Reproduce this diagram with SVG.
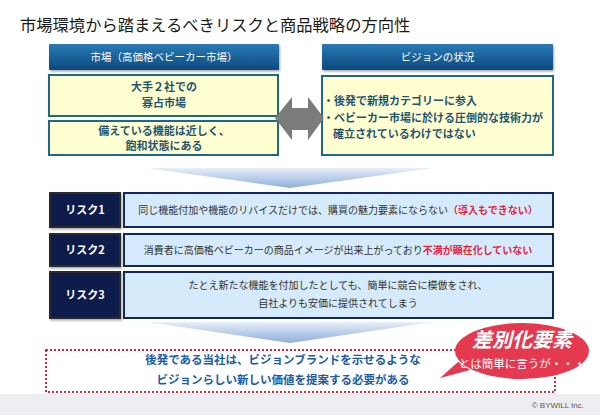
<svg xmlns="http://www.w3.org/2000/svg" width="600" height="415" viewBox="0 0 600 415">
<defs>
<linearGradient id="hdr" x1="0" y1="0" x2="0" y2="1">
<stop offset="0" stop-color="#2b7ab5"/>
<stop offset="1" stop-color="#0b4a80"/>
</linearGradient>
<linearGradient id="chev" x1="0" y1="0" x2="0" y2="1">
<stop offset="0" stop-color="#e8eff8"/>
<stop offset="1" stop-color="#8eaedb"/>
</linearGradient>
<filter id="sh" x="-5%" y="-5%" width="110%" height="120%">
<feDropShadow dx="1" dy="1.5" stdDeviation="1" flood-color="#000" flood-opacity="0.35"/>
</filter>
</defs>
<style>
text{font-family:"Noto Sans CJK JP","Noto Sans",sans-serif}
.hdr{fill:url(#hdr);filter:url(#sh)}
.ht{fill:#fff;font-size:10.5px;text-anchor:middle}
.yb{fill:#ffffd2;stroke:#1b6a86;stroke-width:2}
.yt{fill:#1f5570;font-size:11px;font-weight:bold}
.rl{fill:#0d1e4c;stroke:#2a2a2a;stroke-width:2;filter:url(#sh)}
.rlt{fill:#fff;font-size:11px;font-weight:bold;text-anchor:middle}
.rc{fill:#d5ebfb;stroke:#13285c;stroke-width:2}
.rt{fill:#333;font-size:10px;text-anchor:middle}
.red{fill:#ea2039;font-weight:bold}
.bt{fill:#1a5ca8;font-size:11.5px;font-weight:bold;text-anchor:middle}
</style>
<rect x="0" y="0" width="600" height="415" fill="#fff"/>
<rect x="0" y="394" width="600" height="21" fill="#eceef1"/>
<text x="20" y="31" font-size="16.3" fill="#1a1a1a">市場環境から踏まえるべきリスクと商品戦略の方向性</text>

<g id="market-header">
<rect class="hdr" x="49" y="44" width="230" height="26" rx="1"/>
<text class="ht" x="164" y="61">市場（高価格ベビーカー市場）</text>
</g>
<g id="market-oligopoly">
<rect class="yb" x="49" y="75" width="229" height="41"/>
<text class="yt" x="164" y="91" text-anchor="middle">大手２社での</text>
<text class="yt" x="164" y="107" text-anchor="middle">寡占市場</text>
</g>
<g id="market-saturated">
<rect class="yb" x="49" y="121" width="229" height="34"/>
<text class="yt" x="164" y="135" text-anchor="middle">備えている機能は近しく、</text>
<text class="yt" x="164" y="150" text-anchor="middle">飽和状態にある</text>
</g>
<g id="vision-header">
<rect class="hdr" x="322" y="44" width="231" height="26" rx="1"/>
<text class="ht" x="437.5" y="61">ビジョンの状況</text>
</g>
<g id="vision-status">
<rect class="yb" x="322" y="76" width="231" height="79"/>
<text class="yt" x="323" y="105">・後発で新規カテゴリーに参入</text>
<text class="yt" x="323" y="122">・ベビーカー市場に於ける圧倒的な技術力が</text>
<text class="yt" x="333" y="138">確立されているわけではない</text>
</g>

<g id="connectors">
<polygon points="275,118 292,97 292,108 308,108 308,97 324,118 308,140 308,130 292,130 292,140" fill="#7b7b7b"/>
<polygon points="147,168 433,168 290,188" fill="url(#chev)"/>
<polygon points="147,322 433,322 290,343" fill="url(#chev)"/>
</g>

<g id="risk1">
<rect class="rl" x="50" y="193" width="70" height="34"/>
<text class="rlt" x="85" y="214">リスク1</text>
<rect class="rc" x="124" y="193" width="429" height="34"/>
<text class="rt" x="338" y="214">同じ機能付加や機能のリバイスだけでは、購買の魅力要素にならない<tspan class="red">（導入もできない）</tspan></text>
</g>
<g id="risk2">
<rect class="rl" x="50" y="234" width="70" height="32"/>
<text class="rlt" x="85" y="254">リスク2</text>
<rect class="rc" x="124" y="234" width="429" height="32"/>
<text class="rt" x="338" y="254">消費者に高価格ベビーカーの商品イメージが出来上がっており<tspan class="red">不満が顕在化していない</tspan></text>
</g>
<g id="risk3">
<rect class="rl" x="50" y="272" width="70" height="46"/>
<text class="rlt" x="85" y="299">リスク3</text>
<rect class="rc" x="124" y="272" width="429" height="46"/>
<text class="rt" x="338" y="289">たとえ新たな機能を付加したとしても、簡単に競合に模倣をされ、</text>
<text class="rt" x="338" y="307">自社よりも安価に提供されてしまう</text>
</g>

<g id="conclusion">
<rect x="46" y="350" width="509" height="42" fill="#fff" stroke="#e8203a" stroke-width="2" stroke-dasharray="2,2"/>
<text class="bt" x="283" y="364">後発である当社は、ビジョンブランドを示せるような</text>
<text class="bt" x="283" y="384">ビジョンらしい新しい価値を提案する必要がある</text>
</g>

<g id="bubble">
<path d="M458,362 L440,378 L470,370 Z" fill="#e5394f"/>
<ellipse cx="522" cy="351" rx="67" ry="28" fill="#e5394f"/>
<text x="522" y="347" font-size="20" font-weight="bold" font-style="italic" fill="#fff" text-anchor="middle">差別化要素</text>
<text x="522" y="368" font-size="11.5" fill="#fff" text-anchor="middle">とは簡単に言うが・・・</text>
</g>

<text x="584" y="408" font-size="8" fill="#555" text-anchor="end" style="font-family:'Liberation Sans',sans-serif">© BYWILL Inc.</text>
</svg>
